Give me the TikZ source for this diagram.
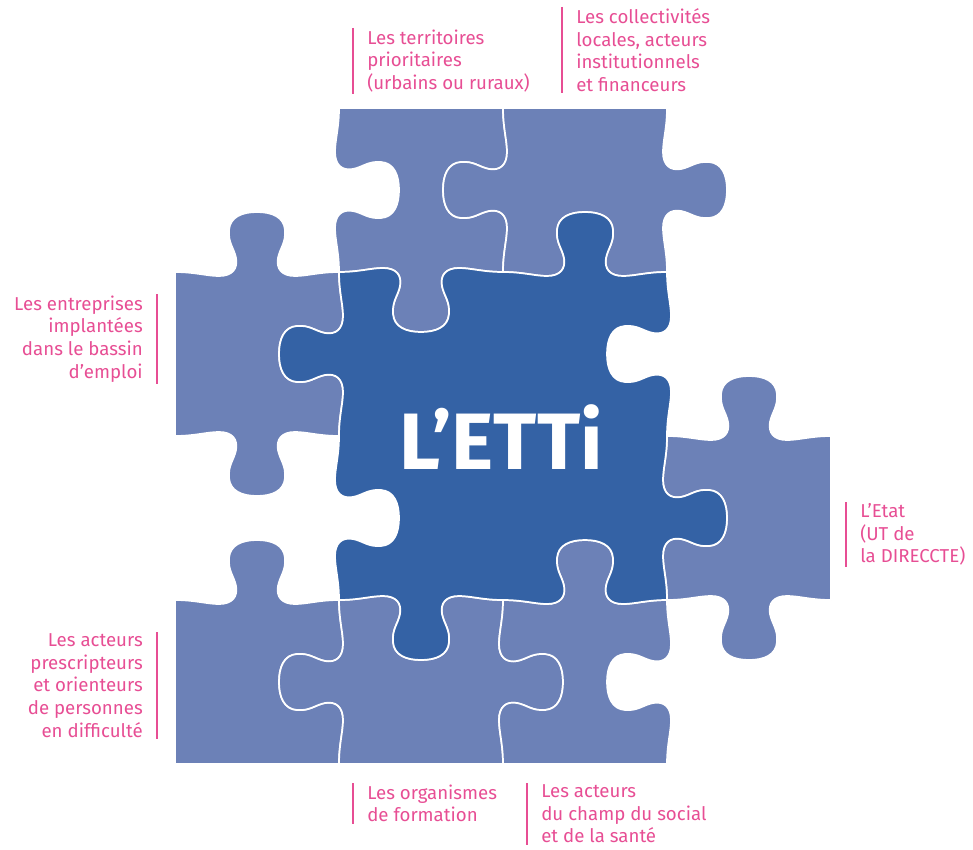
\documentclass[tikz,border=0pt]{standalone}
\usepackage{fontspec}
\setmainfont{Fira Sans}
\usepackage{tikz}

\definecolor{piecelight}{RGB}{108,129,183}
\definecolor{piecedark}{RGB}{52,98,165}
\definecolor{labelpink}{RGB}{231,78,148}

% one side of a puzzle cell, from corner to corner: centre, angle, +1 knob out / -1 knob in
\newcommand\knob[4]{\knobpath{[edge={#1}{#2}{#3}{#4}]}}
\newcommand\knobpath[1]{%
  .. controls (#1-62,0) and (#1-50,4) .. (#1-38,4)
  .. controls (#1-25,4) and (#1-19,-3) .. (#1-21,-14)
  .. controls (#1-23,-24) and (#1-29,-29) .. (#1-28,-42)
  .. controls (#1-27,-55) and (#1-15,-60) .. (#1 0,-60)
  .. controls (#1 15,-60) and (#1 27,-55) .. (#1 28,-42)
  .. controls (#1 29,-29) and (#1 23,-24) .. (#1 21,-14)
  .. controls (#1 19,-3) and (#1 25,4) .. (#1 38,4)
  .. controls (#1 50,4) and (#1 62,0) .. (#1 82,0)}

\begin{document}
\begin{tikzpicture}[x=0.75pt,y=-0.75pt,
  edge/.style n args={4}{shift={(#1,#2)},rotate=#3,yscale=#4},
  piece/.style={fill=piecelight,draw=white,line width=1.3pt,line join=round},
  core/.style={piece,fill=piecedark},
  lbl/.style={text=labelpink,font=\fontsize{14}{17}\selectfont,
    inner xsep=10.5pt,inner ysep=1pt,align=left,anchor=north west},
  lblr/.style={lbl,align=right,anchor=north east},
  bar/.style={draw=labelpink,line width=2pt}]

\useasboundingbox (0,0) rectangle (973,849);

% top row
\path[piece] (339,108) -- (503,108) \knob{503}{190}{-90}{-1}
  \knob{421}{272}{180}{1} \knob{339}{190}{90}{-1} -- cycle;
\path[piece] (503,108) -- (667,108) \knob{667}{190}{-90}{1}
  \knob{585}{272}{180}{-1} \knob{503}{190}{90}{1} -- cycle;

% left and right
\path[piece] (175,272) \knob{257}{272}{0}{1} \knob{339}{354}{-90}{-1}
  \knob{257}{436}{180}{1} -- (175,272) -- cycle;
\path[piece] (667,436) \knob{749}{436}{0}{1} -- (831,600)
  \knob{749}{600}{180}{1} \knob{667}{518}{90}{-1} -- cycle;

% bottom row
\path[piece] (175,600) \knob{257}{600}{0}{1} \knob{339}{682}{-90}{-1}
  -- (175,764) -- cycle;
\path[piece] (339,600) \knob{421}{600}{0}{-1} \knob{503}{682}{-90}{1}
  -- (339,764) \knob{339}{682}{90}{1} -- cycle;
\path[piece] (503,600) \knob{585}{600}{0}{1} \knob{667}{682}{-90}{-1}
  -- (503,764) \knob{503}{682}{90}{-1} -- cycle;

% centre
\path[core] (339,272) \knob{421}{272}{0}{-1} \knob{585}{272}{0}{1}
  \knob{667}{354}{-90}{-1} \knob{667}{518}{-90}{1}
  \knob{585}{600}{180}{-1} \knob{421}{600}{180}{1}
  \knob{339}{518}{90}{-1} \knob{339}{354}{90}{1} -- cycle;

\node[text=white,font=\bfseries\fontsize{60}{60}\selectfont] (etti) at (501,437) {L’ETTi};

\node[lbl] (territoires) at (353,28) {Les territoires\\prioritaires\\(urbains ou ruraux)};
\node[lbl] (collectivites) at (562,7) {Les collectivités\\locales, acteurs\\institutionnels\\et financeurs};
\node[lblr] (entreprises) at (157,294) {Les entreprises\\implantées\\dans le bassin\\d’emploi};
\node[lbl] (etat) at (846,502) {L’Etat\\(UT de\\la DIRECCTE)};
\node[lblr] (prescripteurs) at (157,632) {Les acteurs\\prescripteurs\\et orienteurs\\de personnes\\en difficulté};
\node[lbl] (organismes) at (353,783) {Les organismes\\de formation};
\node[lbl] (social) at (527,783) {Les acteurs\\du champ du social\\et de la santé};

\foreach \n in {territoires,collectivites,etat,organismes,social}
  \draw[bar] (\n.north west) -- (\n.south west);
\foreach \n in {entreprises,prescripteurs}
  \draw[bar] (\n.north east) -- (\n.south east);

\end{tikzpicture}
\end{document}
